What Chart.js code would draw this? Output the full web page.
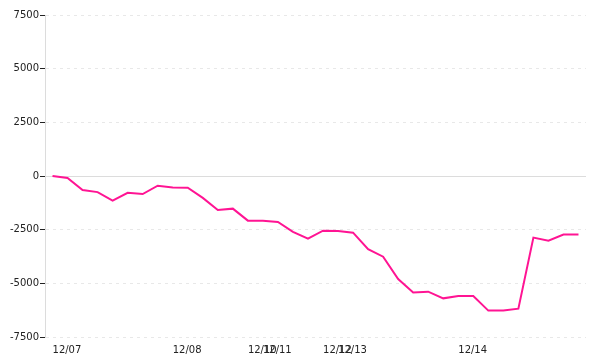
<!DOCTYPE html>
<html>
<head>
<meta charset="utf-8">
<script src="https://cdn.jsdelivr.net/npm/chart.js@4"></script>
<style>
  html, body { margin: 0; padding: 0; background: #fff; }
  #wrap { width: 600px; height: 360px; }
</style>
</head>
<body>
<div id="wrap"><canvas id="pnlChart"></canvas></div>
<script>
// labels only on the first point of each day, others stay blank
const dayLabels = ['12/07', '', '', '', '', '', '', '', '12/08', '', '', '', '', '12/10', '12/11', '', '', '',
    '12/12', '12/13', '', '', '', '', '', '', '', '12/14', '', '', '', '', '', '', '', ''];

// cumulative values
const pnlValues = [0, -90, -650, -750, -1150, -780, -840, -450, -540, -545, -1020, -1580,
    -1520, -2080, -2080, -2140, -2600, -2920, -2550, -2560, -2640, -3410, -3760, -4800,
    -5430, -5390, -5700, -5590, -5590, -6270, -6270, -6180, -2870, -3010, -2730, -2730];

const yTicks = [-7500, -5000, -2500, 0, 2500, 5000, 7500];

Chart.defaults.font.family = 'DejaVu Sans';
Chart.defaults.font.size = 10;
Chart.defaults.color = '#222';

const ctx = document.getElementById('pnlChart').getContext('2d');
const pnlChart = new Chart(ctx, {
    type: 'line',
    data: {
        labels: dayLabels,
        datasets: [{
            data: pnlValues,
            borderColor: '#ff1493',
            borderWidth: 2,
            pointRadius: 0,
            tension: 0,
            fill: false
        }]
    },
    options: {
        responsive: true,
        maintainAspectRatio: false,
        animation: false,
        layout: { padding: { top: 15, right: 14, bottom: 0, left: 0 } },
        plugins: {
            legend: { display: false },
            tooltip: { enabled: false }
        },
        scales: {
            x: {
                offset: true,
                grid: { display: false, drawTicks: false },
                border: { display: false },
                ticks: { autoSkip: false, maxRotation: 0, align: 'start', padding: 7 },
                afterFit: s => { s.height = 23; }
            },
            y: {
                min: yTicks[0],
                max: yTicks[yTicks.length - 1],
                afterBuildTicks: s => { s.ticks = yTicks.map(v => ({ value: v })); },
                grid: {
                    color: c => c.tick && c.tick.value === 0 ? '#dcdcdc' : '#e8e8e8',
                    tickColor: '#222',
                    tickLength: 5
                },
                border: {
                    color: '#dcdcdc',
                    dash: c => c.tick && c.tick.value === 0 ? [] : [3, 4]
                },
                ticks: { padding: 1, callback: v => String(v) },
                afterFit: s => { s.width = 45; }
            }
        }
    }
});
</script>
</body>
</html>
